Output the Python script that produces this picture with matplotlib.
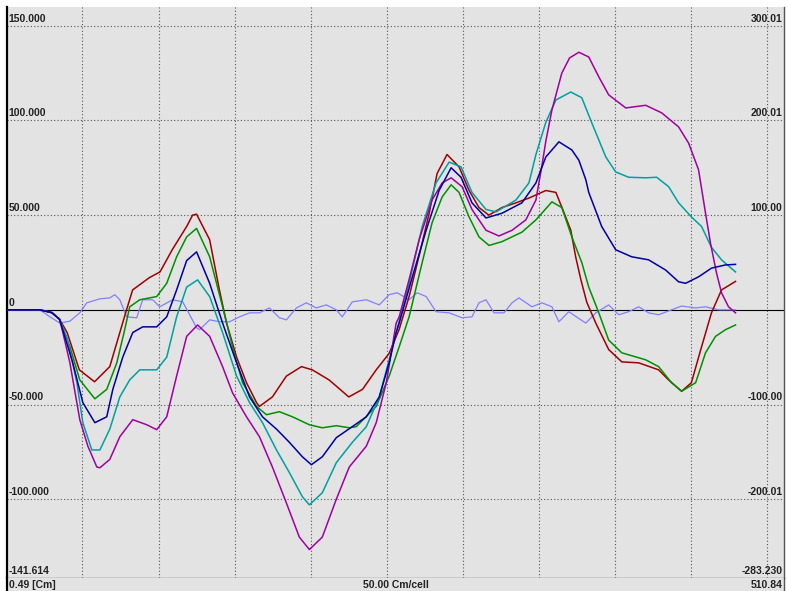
import matplotlib
matplotlib.use('Agg')
import matplotlib.pyplot as plt

# values (x in Cm, y in left-axis units)
red_x = [0.49, 22, 30, 35, 40, 48, 58, 68, 79, 83, 94, 101, 109, 118.5, 122.4, 125, 133.6, 140, 144.7, 151.3,
         157.8, 164.4, 166.3, 174.8, 184, 193.9, 201, 212, 225, 234, 243, 251.5, 258, 264.6, 271, 277.8, 283,
         289.5, 297.4, 304, 310.5, 317, 325.6, 334.8, 343.3, 354.4, 361, 365, 370.8, 374, 377.4, 381.3, 387.2,
         395.7, 404.3, 415.4, 428.5, 435, 443.6, 450, 456.7, 463.2, 469.8, 479]
red_y = [0, 0, -1.5, -5, -12, -31.7, -38, -30, 0, 10.5, 17, 20, 31.7, 44, 50, 50.5, 37, 10.5, -7, -25,
         -38.5, -49, -51, -46, -35, -30, -31.7, -37, -46, -42, -31.7, -23, -10.5, 7, 28, 51, 72,
         82, 75.5, 63, 54, 50, 54, 56.5, 59, 63, 62, 54, 42, 28, 16, 4, -7,
         -21, -27.5, -28, -31.7, -37, -43, -38.5, -19.5, -1.6, 10.5, 15]

green_x = [0.49, 22, 30, 35, 41.8, 48.3, 58.2, 66, 72.6, 77.8, 81.1, 87.7, 98.8, 105.4, 111.9, 118.5, 125,
           133.6, 142.1, 148.6, 155.2, 164.4, 170.9, 179.4, 188, 199.1, 207.6, 216.8, 225.3, 229.9, 243,
           251.5, 258.1, 264.6, 273.2, 279.7, 286.3, 292.2, 297.4, 304, 310.5, 317.1, 325.6, 338.7, 347.9,
           358.4, 364.9, 371.5, 378, 382.6, 389.2, 395.7, 404.3, 420, 428.5, 437, 443.6, 452.8, 459.3,
           465.9, 472.4, 479]
green_y = [0, 0, -1.5, -5, -19.5, -37, -47, -42, -28, -10.5, 1.6, 5.3, 7, 14, 28, 38.5, 43,
           28, 1.6, -19.5, -38.5, -51, -55.4, -53.8, -56.5, -60.7, -62.3, -61.2, -62.3, -61.7, -51,
           -35, -19.5, -3.7, 25, 46, 59.6, 66, 62, 49, 38.5, 34, 36, 41, 47.5,
           57, 54, 38.5, 25, 12, -1.6, -16, -22.7, -26.4, -30, -38.5, -43, -38.5, -22.7,
           -14, -10.5, -8]

blue_x = [0.49, 22, 30, 35, 43.7, 50.3, 58.2, 66, 70, 76.5, 83.1, 89.6, 98.8, 105.4, 111.9, 118.5, 125,
          133.6, 142.1, 151.3, 159.8, 168.3, 177.5, 186, 194.5, 200.4, 207.6, 216.8, 227.3, 236.5, 245,
          251.5, 256.1, 258.1, 266.6, 275.8, 284.3, 292.2, 298.7, 305.9, 315.1, 325.6, 338.7, 347.9, 354.4,
          363, 371.5, 376.1, 380.7, 382.6, 391.1, 400.3, 410.8, 421.9, 433.1, 441.6, 446.2, 454.7, 463.2,
          472.4, 479]
blue_y = [0, 0, -1.5, -5, -28, -49, -59.6, -56.5, -42, -25, -12, -9, -9, -3.7, 10.5, 26, 30.6,
          14, -7, -28, -46, -56.5, -63, -70, -77.6, -81.8, -77.6, -67.5, -61.7, -56.5, -46,
          -28, -12, -7, 17, 42, 63, 75, 70, 56.5, 48.5, 51, 56.5, 67, 80.7,
          88.7, 84.4, 79, 68.6, 62, 44, 31.7, 28, 26.4, 21, 14.8, 14, 17.4, 22,
          23.7, 24]

teal_x = [0.49, 22, 30, 35, 40, 46.4, 50.3, 56.2, 61.5, 68, 74.6, 81.1, 87.7, 98.8, 105.4, 111.9, 118.5,
          125.7, 133.6, 142.1, 151.3, 159.8, 168.3, 177.5, 186, 194.5, 199.1, 207.6, 216.8, 227.3, 236.5,
          245, 251.5, 256.1, 264.6, 273.2, 282.3, 290.9, 298.7, 305.9, 315.1, 321.7, 334.8, 343.3, 347.9,
          354.4, 361, 370.8, 378, 384.6, 393.8, 400.3, 408.8, 420, 427.2, 435.1, 441.6, 450.1, 456.7,
          463.2, 469.8, 479]
teal_y = [0, 0, -1.5, -5, -15, -38.5, -59.6, -74, -74, -63, -46, -37, -31.7, -31.7, -25, -3.7, 12,
          15.8, 7, -12, -35, -49, -59.6, -74, -86, -98.7, -103, -96.6, -80.7, -70, -61.7,
          -46, -26.4, -12, 14, 44, 67, 78, 75.5, 62, 53, 51.7, 58, 67, 82,
          99, 110.8, 115, 112, 98.7, 80.7, 72.8, 70, 69.7, 70, 65, 56.5, 49, 44,
          33, 26.4, 20]

purple_x = [0.49, 22, 30, 35, 37.2, 41.8, 48.3, 53.6, 59.5, 61.5, 68, 74.6, 83.1, 92.3, 98.8, 105.4, 111.9,
            118.5, 125.7, 133.6, 142.1, 148.6, 157.8, 166.3, 174.8, 184, 192.5, 199.1, 207.6, 216.8, 225.3,
            236.5, 243, 249.6, 256.1, 258.1, 264.6, 271.2, 279.7, 286.3, 292.2, 299.4, 305.9, 315.1, 323.6,
            332.2, 341.3, 347.9, 351.8, 354.4, 358.4, 364.9, 370, 376.1, 382.6, 389.2, 395.7, 406.9, 420,
            430.5, 441.6, 448.2, 454.7, 459.3, 462.6, 466.5, 469.8, 474.4, 479]
purple_y = [0, 0, -1.5, -5, -12, -28, -58, -72, -83, -83.4, -79, -67, -58, -60.7, -63.3, -56.5, -35,
            -14, -8, -14, -30, -43.8, -56.5, -67, -83, -102, -120, -126.6, -120, -100, -83,
            -72, -59.6, -38.5, -7, -3.7, 16, 37, 58, 67, 69.7, 65, 53, 42, 39,
            42, 47.5, 58, 76, 89, 105.5, 125, 133, 136, 133.5, 123, 113.5, 106.6, 108,
            104, 96.6, 88, 74, 51, 35, 19.5, 9, 1.6, -1.6]

light_x = [0.49, 22, 28.7, 35.2, 41.8, 48.3, 52.9, 61.5, 68, 71.3, 74.6, 79.1, 85.7, 89.6, 96.2, 100.8,
           109.3, 115.9, 120.4, 125, 127, 133.6, 140.1, 146.7, 153.2, 159.8, 166.3, 172.9, 179.4, 184,
           190.6, 197.1, 203.7, 210.2, 216.8, 220.7, 227.3, 236.5, 245, 251.5, 256.8, 264.6, 269.9, 275.8,
           282.3, 290.9, 299.4, 305.9, 310.5, 315.1, 320.4, 326.9, 332.2, 336.7, 345.3, 351.8, 358.4, 363,
           369.5, 377.4, 380.7, 387.2, 395.7, 402.3, 408.8, 415.4, 421.9, 428.5, 437, 443.6, 452.8, 459.3,
           467.8, 479]
light_y = [0, 0, -3.7, -7, -6, -1.6, 3.7, 5.8, 6.3, 8, 5.3, -3.7, -4.2, 5.3, 5.3, 1.6,
           5.3, 4.2, -2.5, -9.5, -10.5, -5.3, -6.3, -6.3, -3.7, -1.6, -1.6, 1, -4.2, -5.3,
           1, 3.7, 1, 2.6, 0, -3.7, 4.2, 5.3, 2.6, 8, 9, 5.3, 9, 7,
           -1, -1.6, -4.2, -3.7, 3.7, 5.3, -1.6, -1.6, 3.7, 6.3, 1.6, 3.7, 1.6, -6.3,
           -1, -5.3, -7, -1.6, 2.6, -2.6, -1, 1.6, -1.6, -2.6, 0, 2, 1, 1.6,
           0, 0]

left_labels = ['150.000', '100.000', '50.000', '0', '-50.000', '-100.000']
right_labels = ['300.01', '200.01', '100.00', '', '-100.00', '-200.01']
label_vals = [150, 100, 50, 0, -50, -100]
grid_x = [50, 100, 150, 200, 250, 300, 350, 400, 450, 500]
grid_y = [150, 100, 50, -50, -100]

xmin, xmax = 0.49, 510.84
ymin, ymax = -141.614, 159.9
bg = '#e3e3e3'
txt = '#222222'
font = dict(family='Liberation Sans', fontsize=7.5, fontweight='bold', color=txt)

fig = plt.figure(figsize=(7.88, 5.91), dpi=100)
fig.patch.set_facecolor('white')

ax = fig.add_axes([7/788, 13/591, 777/788, 571/591])
ax.set_facecolor(bg)
ax.set_xlim(xmin, xmax)
ax.set_ylim(ymin, ymax)
ax.set_xticks([])
ax.set_yticks([])
ax.spines['top'].set_visible(False)
ax.spines['left'].set_linewidth(1.6)
ax.spines['left'].set_color('black')
ax.spines['bottom'].set_linewidth(0.9)
ax.spines['bottom'].set_color('#333333')
ax.spines['right'].set_linewidth(1.0)
ax.spines['right'].set_color('#555555')

for gx in grid_x:
    ax.axvline(gx, color='#555555', lw=0.8, ls=(0, (1, 2)), zorder=1)
for gy in grid_y:
    ax.axhline(gy, color='#555555', lw=0.8, ls=(0, (1, 2)), zorder=1)
ax.axhline(0, color='black', lw=0.8, zorder=1)

ax.plot(light_x, light_y, color='#8080ff', lw=0.9, zorder=2)
ax.plot(red_x, red_y, color='#a00000', lw=1.1, zorder=3)
ax.plot(green_x, green_y, color='#009000', lw=1.1, zorder=3)
ax.plot(teal_x, teal_y, color='#00a0a0', lw=1.1, zorder=3)
ax.plot(purple_x, purple_y, color='#a000a0', lw=1.1, zorder=3)
ax.plot(blue_x, blue_y, color='#0000a0', lw=1.1, zorder=4)

for v, l, r in zip(label_vals, left_labels, right_labels):
    ax.annotate(l, (0, v), xycoords=('axes fraction', 'data'), xytext=(1, 1.5),
                textcoords='offset points', ha='left', va='bottom', **font)
    if r:
        ax.annotate(r, (1, v), xycoords=('axes fraction', 'data'), xytext=(-1, 1.5),
                    textcoords='offset points', ha='right', va='bottom', **font)
ax.annotate('-141.614', (0, 0), xycoords='axes fraction', xytext=(1, 1.5),
            textcoords='offset points', ha='left', va='bottom', **font)
ax.annotate('-283.230', (1, 0), xycoords='axes fraction', xytext=(-1, 1.5),
            textcoords='offset points', ha='right', va='bottom', **font)

# bottom strip with the scale texts
sx = fig.add_axes([7/788, 0, 777/788, 13/591])
sx.set_facecolor(bg)
sx.set_xticks([])
sx.set_yticks([])
for s in ['top', 'bottom']:
    sx.spines[s].set_visible(False)
sx.spines['left'].set_linewidth(1.6)
sx.spines['left'].set_color('black')
sx.spines['right'].set_linewidth(1.0)
sx.spines['right'].set_color('#555555')
sx.text(0.002, 0.5, '0.49 [Cm]', ha='left', va='center', transform=sx.transAxes, **font)
sx.text(0.5, 0.5, '50.00 Cm/cell', ha='center', va='center', transform=sx.transAxes, **font)
sx.text(0.998, 0.5, '510.84', ha='right', va='center', transform=sx.transAxes, **font)

fig.savefig('out.png', dpi=100)
